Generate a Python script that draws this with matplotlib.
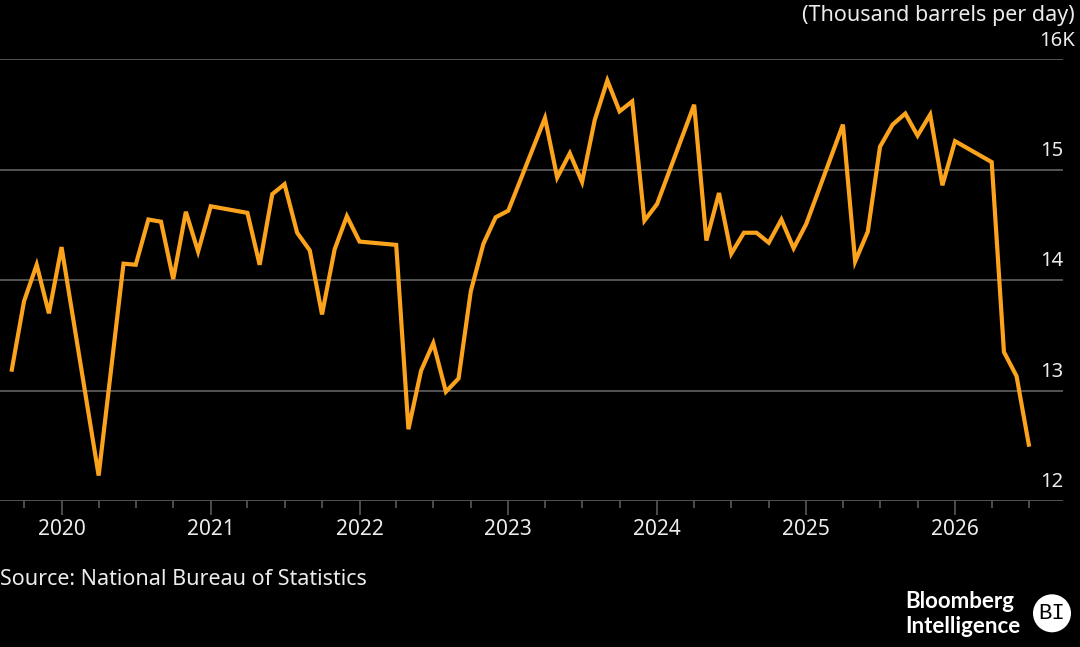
import matplotlib
matplotlib.use("Agg")
import matplotlib.pyplot as plt
import matplotlib.dates as mdates
from matplotlib.patches import Circle
import pandas as pd

# monthly output, thousand barrels per day (gaps where the source has no month)
months = [
    "2019-09", "2019-10", "2019-11", "2019-12",
    "2020-01", "2020-04", "2020-06", "2020-07", "2020-08", "2020-09",
    "2020-10", "2020-11", "2020-12",
    "2021-01", "2021-04", "2021-05", "2021-06", "2021-07", "2021-08",
    "2021-09", "2021-10", "2021-11", "2021-12",
    "2022-01", "2022-04", "2022-05", "2022-06", "2022-07", "2022-08",
    "2022-09", "2022-10", "2022-11", "2022-12",
    "2023-01", "2023-04", "2023-05", "2023-06", "2023-07", "2023-08",
    "2023-09", "2023-10", "2023-11", "2023-12",
    "2024-01", "2024-04", "2024-05", "2024-06", "2024-07", "2024-08",
    "2024-09", "2024-10", "2024-11", "2024-12",
    "2025-01", "2025-04", "2025-05", "2025-06", "2025-07", "2025-08",
    "2025-09", "2025-10", "2025-11", "2025-12",
    "2026-01", "2026-04", "2026-05", "2026-06", "2026-07",
]
output = [
    13.19, 13.81, 14.14, 13.70,
    14.30, 12.23, 14.15, 14.14, 14.55, 14.53,
    14.01, 14.62, 14.26,
    14.67, 14.61, 14.14, 14.78, 14.87, 14.43,
    14.27, 13.69, 14.28, 14.58,
    14.35, 14.32, 12.65, 13.18, 13.43, 12.99,
    13.11, 13.90, 14.33, 14.57,
    14.63, 15.47, 14.93, 15.15, 14.89, 15.45,
    15.81, 15.53, 15.62, 14.54,
    14.69, 15.59, 14.36, 14.79, 14.24, 14.43,
    14.43, 14.34, 14.55, 14.29,
    14.51, 15.41, 14.17, 14.44, 15.21, 15.41,
    15.51, 15.31, 15.50, 14.86,
    15.26, 15.07, 13.35, 13.13, 12.51,
]
y_ticks = [12, 13, 14, 15, 16]
y_labels = ["12", "13", "14", "15", "16K"]

BG = "black"
ORANGE = "#FBA31C"
GRID = "#5a5a5a"
TXT = "#ececec"
FONT = "Noto Sans"

dates = pd.to_datetime(months, format="%Y-%m")

fig = plt.figure(figsize=(10.8, 6.47), dpi=100, facecolor=BG)
ax = fig.add_axes([0.0, 0.2257, 0.9843, 0.6824], facecolor=BG)

for v in y_ticks:
    ax.axhline(v, color=GRID, lw=1.3, zorder=1)

ax.plot(dates, output, color=ORANGE, lw=3.0, solid_joinstyle="miter", zorder=3)

ax.set_ylim(12, 16)
ax.set_xlim(pd.Timestamp("2019-08-03"), pd.Timestamp("2026-09-23"))

for s in ["top", "right", "left", "bottom"]:
    ax.spines[s].set_visible(False)
ax.set_yticks([])

ax.xaxis.set_major_locator(mdates.YearLocator())
ax.xaxis.set_major_formatter(mdates.DateFormatter("%Y"))
ax.xaxis.set_minor_locator(mdates.MonthLocator(bymonth=[1, 4, 7, 10]))
ax.tick_params(axis="x", which="major", length=10, width=1.2, color=GRID,
               labelcolor=TXT, labelsize=15, pad=3)
ax.tick_params(axis="x", which="minor", length=5, width=1.2, color=GRID)
for lab in ax.get_xticklabels():
    lab.set_fontfamily(FONT)

# value labels sit just above each gridline, right aligned
for v, lab in zip(y_ticks, y_labels):
    ax.text(1.0 if lab != "16K" else 1.011, v + 0.08, lab, transform=ax.get_yaxis_transform(),
            ha="right", va="bottom", color=TXT, fontsize=14.5, family=FONT)

fig.text(0.9954, 0.992, "(Thousand barrels per day)", ha="right", va="top",
         color=TXT, fontsize=15.5, family=FONT)
fig.text(0.0, 0.105, "Source: National Bureau of Statistics", ha="left", va="center",
         color=TXT, fontsize=15.5, family=FONT)

fig.text(0.838, 0.071, "Bloomberg", ha="left", va="center", color="white",
         fontsize=16, family="Lato", weight="bold")
fig.text(0.838, 0.032, "Intelligence", ha="left", va="center", color="white",
         fontsize=16, family="Lato", weight="bold")
circ = Circle((1052, 647 - 613.3), 19, transform=None, facecolor="white",
              edgecolor="none")
fig.patches.append(circ)
fig.text(1052 / 1080, 1 - 613.3 / 647, "BI", ha="center", va="center", color="black",
         fontsize=16, family="Liberation Mono")

fig.savefig("out.png", dpi=100, facecolor=BG)
